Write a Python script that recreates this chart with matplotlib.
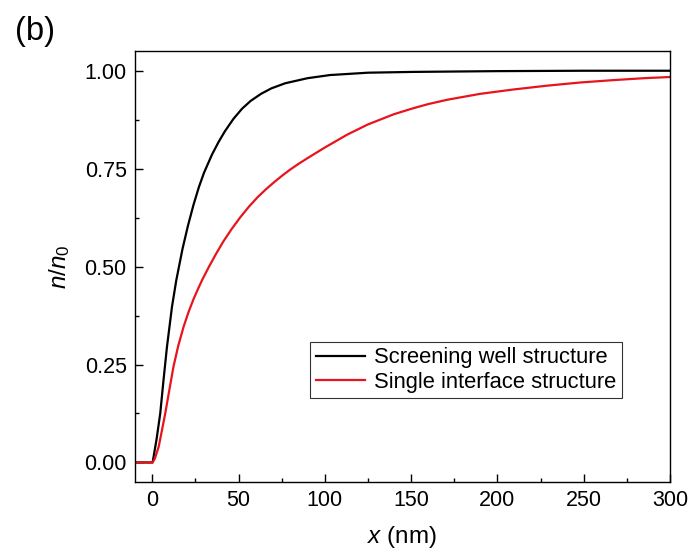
import matplotlib
matplotlib.use("Agg")
import matplotlib.pyplot as plt
from matplotlib.ticker import MultipleLocator

plt.rcParams["font.family"] = ["Liberation Sans", "DejaVu Sans"]
plt.rcParams["mathtext.fontset"] = "custom"
plt.rcParams["mathtext.rm"] = "Liberation Sans"
plt.rcParams["mathtext.it"] = "Liberation Sans:italic"

# Values
x_well = [-10, 0.2, 2.5, 4.6, 6.5, 8.5, 11.4, 13.9, 17.5, 20.7, 23.9, 27, 30,
          34.6, 38.4, 42, 47, 52, 57, 63, 69, 77, 90, 103, 125, 151, 200, 250, 300]
n_well = [0, 0, 0.06, 0.125, 0.21, 0.295, 0.397, 0.465, 0.545, 0.605, 0.658,
          0.703, 0.740, 0.786, 0.818, 0.845, 0.877, 0.903, 0.923, 0.941, 0.955,
          0.968, 0.981, 0.989, 0.995, 0.997, 0.999, 1.0, 1.0]

x_single = [-10, 0.2, 1.5, 3.7, 5.5, 7.5, 10, 12.3, 15, 18.1, 21, 23.9, 26.5,
            28.8, 33, 37, 41.3, 46, 51, 56, 61, 66, 71, 75.5, 80, 85, 90, 100,
            113, 125, 140, 151, 160, 171, 190, 209, 229, 248, 267, 285, 300]
n_single = [0, 0, 0.01, 0.04, 0.08, 0.125, 0.188, 0.245, 0.297, 0.346, 0.384,
            0.417, 0.443, 0.465, 0.501, 0.533, 0.565, 0.596, 0.626, 0.653, 0.677,
            0.698, 0.717, 0.733, 0.748, 0.763, 0.777, 0.804, 0.837, 0.863, 0.889,
            0.904, 0.915, 0.926, 0.941, 0.952, 0.962, 0.970, 0.976, 0.981, 0.984]

labels = ["Screening well structure", "Single interface structure"]
colors = ["black", "#e8141c"]

fig = plt.figure(figsize=(6.9, 5.56), dpi=100)
ax = fig.add_axes([0.1957, 0.133, 0.7753, 0.775])

ax.plot(x_well, n_well, color=colors[0], lw=1.6, label=labels[0])
ax.plot(x_single, n_single, color=colors[1], lw=1.6, label=labels[1])

ax.set_xlim(-10, 300)
ax.set_ylim(-0.05, 1.05)
ax.xaxis.set_major_locator(MultipleLocator(50))
ax.xaxis.set_minor_locator(MultipleLocator(25))
ax.yaxis.set_major_locator(MultipleLocator(0.25))
ax.yaxis.set_minor_locator(MultipleLocator(0.125))
ax.yaxis.set_major_formatter(plt.FormatStrFormatter("%.2f"))

ax.tick_params(which="both", direction="in", labelsize=15.5, width=1.0)
ax.tick_params(which="major", length=6, pad=6)
ax.tick_params(which="minor", length=3)
for sp in ax.spines.values():
    sp.set_linewidth(1.0)

ax.set_xlabel("$x$ (nm)", fontsize=17.5, labelpad=9)
ax.set_ylabel("$n/n_0$", fontsize=17.5, labelpad=9)

leg = ax.legend(loc="lower right", bbox_to_anchor=(0.91, 0.195), fontsize=15.8,
                frameon=True, fancybox=False, handlelength=2.25,
                borderpad=0.25, labelspacing=0.15, handletextpad=0.4,
                borderaxespad=0)
leg.get_frame().set_edgecolor("black")
leg.get_frame().set_linewidth(0.8)

fig.text(0.022, 0.944, "(b)", fontsize=23.5, va="center", ha="left")

fig.savefig("out.png", dpi=100)
